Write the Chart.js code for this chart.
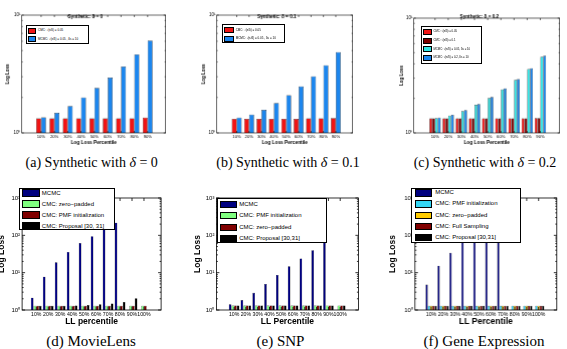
<!DOCTYPE html>
<html>
<head>
<meta charset="utf-8">
<script src="https://cdn.jsdelivr.net/npm/chart.js@4.4.0/dist/chart.umd.min.js"></script>
<style>
  body { margin: 0; width: 567px; height: 349px; overflow: hidden; background: #fff; position: relative; font-family: "Liberation Sans", Arial, sans-serif; }
  .box { position: absolute; }
  .cap { position: absolute; font-family: "Liberation Serif", serif; white-space: nowrap; line-height: 1; transform: translateX(-50%); }
  .leg { position: absolute; background: #fff; border: 1px solid #000; box-sizing: border-box; }
  .leg div { position: absolute; white-space: nowrap; }
</style>
</head>
<body>
<script>
// categories
const synthPct = ['10%', '20%', '30%', '40%', '50%', '60%', '70%', '80%', '90%'];
const llPct = ['10%', '20%', '30%', '40%', '50%', '60%', '70%', '80%', '90%', '100%'];

// (a) synthetic, delta = 0
const aCmc = [1.33, 1.33, 1.33, 1.33, 1.33, 1.33, 1.33, 1.33, 1.35];
const aMcmc = [1.36, 1.48, 1.69, 2.0, 2.41, 2.95, 3.66, 4.64, 6.07];
// (b) synthetic, delta = 0.1
const bCmc = [1.32, 1.32, 1.32, 1.32, 1.32, 1.32, 1.33, 1.33, 1.34];
const bMcmc = [1.35, 1.43, 1.57, 1.8, 2.09, 2.48, 3.02, 3.76, 4.86];
// (c) synthetic, delta = 0.2
const cCmc05 = [1.34, 1.34, 1.34, 1.34, 1.34, 1.34, 1.34, 1.34, 1.35];
const cCmc1 = [1.34, 1.34, 1.34, 1.34, 1.34, 1.34, 1.34, 1.34, 1.35];
const cMcmc05 = [1.35, 1.42, 1.55, 1.76, 2.02, 2.4, 2.9, 3.6, 4.62];
const cMcmc2 = [1.36, 1.44, 1.58, 1.79, 2.06, 2.44, 2.95, 3.67, 4.72];
// (d) MovieLens
const dMcmc = [2.14, 7.8, 19, 36, 62, 95, 158, 218, null, null];
const dZero = [1.3, 1.3, 1.3, 1.3, 1.3, 1.3, 1.3, 1.3, 1.3, 1.3];
const dPmf = [1.3, 1.3, 1.3, 1.3, 1.3, 1.3, 1.3, 1.3, 1.3, 1.3];
const dProp = [1.3, 1.3, 1.3, 1.32, 1.36, 1.42, 1.5, 1.65, 2.05, null];
// (e) SNP
const eMcmc = [1.42, 1.85, 2.9, 5.0, 8.7, 14.8, 24, 40, 65, null];
const ePmf = [1.32, 1.32, 1.32, 1.32, 1.32, 1.32, 1.32, 1.32, 1.33, 1.33];
const eZero = [1.32, 1.32, 1.32, 1.32, 1.32, 1.32, 1.32, 1.32, 1.33, 1.33];
const eProp = [1.32, 1.32, 1.32, 1.32, 1.32, 1.32, 1.32, 1.32, 1.33, 1.33];
// (f) Gene Expression
const fMcmc = [4.8, 15.4, 34, 70, 130, 230, 400, null, null, null];
const fPmf = [1.3, 1.3, 1.3, 1.3, 1.3, 1.3, 1.3, 1.3, 1.3, 1.3];
const fZero = [1.3, 1.3, 1.3, 1.3, 1.3, 1.3, 1.3, 1.3, 1.3, 1.3];
const fFull = [1.3, 1.3, 1.3, 1.3, 1.3, 1.3, 1.3, 1.3, 1.3, 1.3];
const fProp = [1.3, 1.3, 1.3, 1.3, 1.3, 1.3, 1.3, 1.3, 1.3, 1.3];

const sup = ['⁰', '¹', '²', '³'];

// matlab-like box with inward ticks
const frame = {
  id: 'frame',
  afterDatasetsDraw(chart, args, o) {
    const { ctx, chartArea: a, scales: { x, y } } = chart;
    ctx.save();
    ctx.strokeStyle = '#000';
    ctx.lineWidth = o.lw;
    ctx.strokeRect(a.left, a.top, a.right - a.left, a.bottom - a.top);
    ctx.beginPath();
    for (let e = 0; Math.pow(10, e) <= y.max; e++) {
      for (let m = 1; m < 10; m++) {
        const v = m * Math.pow(10, e);
        if (v > y.max) break;
        const py = y.getPixelForValue(v);
        const len = m === 1 ? o.major : o.minor;
        ctx.moveTo(a.left, py); ctx.lineTo(a.left + len, py);
        ctx.moveTo(a.right, py); ctx.lineTo(a.right - len, py);
      }
    }
    x.ticks.forEach(t => {
      const px = x.getPixelForValue(t.value);
      ctx.moveTo(px, a.bottom); ctx.lineTo(px, a.bottom - o.major);
      ctx.moveTo(px, a.top); ctx.lineTo(px, a.top + o.major);
    });
    ctx.stroke();
    ctx.restore();
  }
};

function panel(p) {
  const div = document.createElement('div');
  div.className = 'box';
  const w = p.R + p.pr - p.cl, h = p.cb - p.ct;
  Object.assign(div.style, { left: p.cl + 'px', top: p.ct + 'px', width: w + 'px', height: h + 'px' });
  const cv = document.createElement('canvas');
  div.appendChild(cv);
  document.body.appendChild(div);
  const yW = p.L - p.cl, xH = p.cb - p.B;
  const tLh = p.tf * 1.2;
  const tTop = p.ty - p.ct - tLh / 2;

  new Chart(cv, {
    type: 'bar',
    data: {
      datasets: p.series.map(s => ({
        label: s.label,
        data: s.data.map((v, i) => ({ x: i + 1, y: v })),
        backgroundColor: s.color,
        borderColor: '#000',
        borderWidth: p.bw,
        borderSkipped: 'start',
        base: 1
      }))
    },
    options: {
      responsive: true,
      maintainAspectRatio: false,
      animation: false,
      datasets: { bar: { categoryPercentage: p.cat, barPercentage: 1 } },
      layout: { padding: { top: p.title ? 0 : p.T - p.ct, right: p.pr, left: 0, bottom: 0 } },
      plugins: {
        legend: { display: false },
        tooltip: { enabled: false },
        title: p.title ? {
          display: true, text: p.title, color: '#000',
          font: { size: p.tf, weight: 'bold', lineHeight: 1.2 },
          padding: { top: tTop, bottom: p.T - p.ct - tTop - tLh, left: 0, right: 0 }
        } : { display: false },
        frame: { lw: p.lw, major: p.major, minor: p.minor }
      },
      scales: {
        x: {
          type: 'linear', min: p.xmin, max: p.xmax,
          grid: { display: false, drawTicks: false },
          border: { display: false },
          afterBuildTicks: s => { s.ticks = p.cats.map((c, i) => ({ value: i + 1 })); },
          afterFit: s => { s.height = xH; },
          ticks: {
            autoSkip: false, maxRotation: 0, minRotation: 0, padding: p.tp, color: '#000',
            font: { size: p.xf }, callback: v => p.cats[v - 1]
          },
          title: { display: true, text: p.xTitle, color: '#000', padding: 0, font: { size: p.xtf, weight: 'bold', lineHeight: 1.2 } }
        },
        y: {
          type: 'logarithmic', min: 1, max: p.ymax,
          grid: { display: false, drawTicks: false },
          border: { display: false },
          afterBuildTicks: s => {
            const t = [];
            for (let v = 1; v <= p.ymax; v *= 10) t.push({ value: v });
            s.ticks = t;
          },
          afterFit: s => { s.width = yW; },
          ticks: {
            padding: p.yp, color: '#000', font: { size: p.yf },
            callback: v => '10' + sup[Math.round(Math.log10(v))]
          },
          title: { display: true, text: 'Log Loss', color: '#000', padding: 0, font: { size: p.ytf, weight: 'bold', lineHeight: 1.2 } }
        }
      }
    },
    plugins: [frame]
  });
}

function legend(b) {
  const d = document.createElement('div');
  d.className = 'leg';
  Object.assign(d.style, { left: b.x + 'px', top: b.y + 'px', width: b.w + 'px', height: b.h + 'px', borderWidth: b.bw + 'px' });
  b.items.forEach((it, i) => {
    const y0 = b.sy + i * b.step;
    const sw = document.createElement('div');
    Object.assign(sw.style, { left: b.sx + 'px', top: y0 + 'px', width: b.sww + 'px', height: b.swh + 'px', background: it.color, boxSizing: 'border-box', border: '0.5px solid #000' });
    const t = document.createElement('div');
    t.textContent = it.text;
    Object.assign(t.style, { left: b.tx + 'px', top: (y0 + b.swh / 2 - b.fs * 0.6) + 'px', fontSize: b.fs + 'px', lineHeight: '1.2' });
    d.appendChild(sw);
    d.appendChild(t);
  });
  document.body.appendChild(d);
}

function caption(html, cx, cy, fs) {
  const c = document.createElement('div');
  c.className = 'cap';
  c.innerHTML = html;
  Object.assign(c.style, { left: cx + 'px', top: (cy - fs / 2) + 'px', fontSize: fs + 'px' });
  document.body.appendChild(c);
}

const RED = '#f01414', BLUE = '#1c86ee', DRED = '#7a0000', CYAN = '#30e6e6';
const NAVY = '#00007f', LGREEN = '#80ff80', MAROON = '#800000', BLACK = '#000000', SKY = '#33d6f5', GOLD = '#ffcc00';

const topRow = { ct: 0, cb: 144.5, ymax: 10, cats: synthPct, xTitle: 'Log Loss Percentile', tf: 4.7, ty: 16.5,
  xf: 4.2, tp: 1, xtf: 4.8, yf: 4.5, yp: 1.3, ytf: 4.5, bw: 0.5, lw: 0.6, major: 2, minor: 1 };
const botRow = { ct: 188, cb: 327, ymax: 1000, cats: llPct, pr: 3, xf: 5.2, tp: 1, xtf: 8.5, yf: 6, yp: 2, ytf: 8.5,
  bw: 0.4, lw: 0.8, major: 3, minor: 1.5, T: 198, B: 310 };

panel(Object.assign({}, topRow, { L: 22, R: 165, T: 15, B: 132, cl: 5.3, pr: 16.7, xmin: 0.15, xmax: 9.75, cat: 0.74,
  title: 'Synthetic: δ = 0',
  series: [{ label: 'CMC', data: aCmc, color: RED }, { label: 'MCMC', data: aMcmc, color: BLUE }] }));
panel(Object.assign({}, topRow, { L: 217, R: 352, T: 15, B: 132, cl: 201.3, pr: 15.7, xmin: 0, xmax: 9.75, cat: 0.8,
  title: 'Synthetic: δ = 0.1',
  series: [{ label: 'CMC', data: bCmc, color: RED }, { label: 'MCMC', data: bMcmc, color: BLUE }] }));
panel(Object.assign({}, topRow, { L: 414, R: 559, T: 18, B: 132, cl: 399.3, pr: 14.7, xmin: 0, xmax: 9.85, cat: 0.86,
  title: 'Synthetic: δ = 0.2',
  series: [{ label: 'CMC 0.05', data: cCmc05, color: RED }, { label: 'CMC 0.1', data: cCmc1, color: DRED },
           { label: 'MCMC 0.05', data: cMcmc05, color: CYAN }, { label: 'MCMC 0.2', data: cMcmc2, color: BLUE }] }));

panel(Object.assign({}, botRow, { L: 22, R: 161, cl: -3.1, xmin: 0.4, xmax: 10.85, cat: 0.9, xTitle: 'LL percentile',
  series: [{ label: 'MCMC', data: dMcmc, color: NAVY }, { label: 'zero', data: dZero, color: LGREEN },
           { label: 'PMF', data: dPmf, color: MAROON }, { label: 'Proposal', data: dProp, color: BLACK }] }));
panel(Object.assign({}, botRow, { L: 216, R: 358, cl: 192.6, xmin: 0.1, xmax: 10.94, cat: 0.9, xTitle: 'LL Percentile',
  series: [{ label: 'MCMC', data: eMcmc, color: NAVY }, { label: 'PMF', data: ePmf, color: LGREEN },
           { label: 'zero', data: eZero, color: MAROON }, { label: 'Proposal', data: eProp, color: BLACK }] }));
panel(Object.assign({}, botRow, { L: 415, R: 556, cl: 388.2, xmin: 0.23, xmax: 10.93, cat: 0.95, xTitle: 'LL Percentile',
  series: [{ label: 'MCMC', data: fMcmc, color: NAVY }, { label: 'PMF', data: fPmf, color: SKY },
           { label: 'zero', data: fZero, color: GOLD }, { label: 'Full', data: fFull, color: MAROON },
           { label: 'Proposal', data: fProp, color: BLACK }] }));

// legends
legend({ x: 25.5, y: 25, w: 63.5, h: 18.5, bw: 0.7, sx: 1.5, sy: 2, step: 8.4, sww: 8.4, swh: 6, tx: 11.5, fs: 3,
  items: [{ color: RED, text: 'CMC: √(ε/δ) = 0.05' }, { color: BLUE, text: 'MCMC: √(ε/δ) = 0.05 , δs = 10' }] });
legend({ x: 221.7, y: 24, w: 63.3, h: 19.3, bw: 0.7, sx: 1.8, sy: 2.3, step: 8.4, sww: 9.3, swh: 6, tx: 13, fs: 3,
  items: [{ color: RED, text: 'CMC: √(ε/δ) = 0.05' }, { color: BLUE, text: 'MCMC: √(ε/δ) = 0.05 , δs = 10' }] });
legend({ x: 421, y: 26, w: 60.7, h: 37.7, bw: 0.7, sx: 1.3, sy: 1.7, step: 8.8, sww: 9, swh: 6, tx: 11.5, fs: 2.8,
  items: [{ color: RED, text: 'CMC: √(ε/δ) = 0.05' }, { color: DRED, text: 'CMC: √(ε/δ) = 0.1' },
          { color: CYAN, text: 'MCMC: √(ε/δ) = 0.05, δs = 10' }, { color: BLUE, text: 'MCMC: √(ε/δ) = 0.2, δs = 10' }] });

legend({ x: 19.3, y: 187.7, w: 95.7, h: 42.3, bw: 0.8, sx: 1.5, sy: 0.8, step: 11, sww: 18, swh: 7.3, tx: 21.5, fs: 6,
  items: [{ color: NAVY, text: 'MCMC' }, { color: LGREEN, text: 'CMC: zero−padded' },
          { color: MAROON, text: 'CMC: PMF initialization' }, { color: BLACK, text: 'CMC: Proposal [30, 31]' }] });
legend({ x: 216.7, y: 197.7, w: 110, h: 45.7, bw: 0.8, sx: 2.5, sy: 2.3, step: 11.5, sww: 17.3, swh: 6.8, tx: 21.5, fs: 6,
  items: [{ color: NAVY, text: 'MCMC' }, { color: LGREEN, text: 'CMC: PMF initialization' },
          { color: MAROON, text: 'CMC: zero−padded' }, { color: BLACK, text: 'CMC: Proposal [30,31]' }] });
legend({ x: 411, y: 187.7, w: 109.7, h: 55.7, bw: 0.8, sx: 3.2, sy: 0.7, step: 11.1, sww: 17.3, swh: 7.2, tx: 23.2, fs: 6,
  items: [{ color: NAVY, text: 'MCMC' }, { color: SKY, text: 'CMC: PMF initialization' },
          { color: GOLD, text: 'CMC: zero−padded' }, { color: MAROON, text: 'CMC: Full Sampling' },
          { color: BLACK, text: 'CMC: Proposal [30,31]' }] });

// captions
caption('(a) Synthetic with <i>δ</i> = 0', 91.7, 163, 14);
caption('(b) Synthetic with <i>δ</i> = 0.1', 288, 163, 14);
caption('(c) Synthetic with <i>δ</i> = 0.2', 485, 163, 14);
caption('(d) MovieLens', 91, 341.5, 15);
caption('(e) SNP', 280.5, 341.5, 15);
caption('(f) Gene Expression', 484, 341.5, 15);
</script>
</body>
</html>
